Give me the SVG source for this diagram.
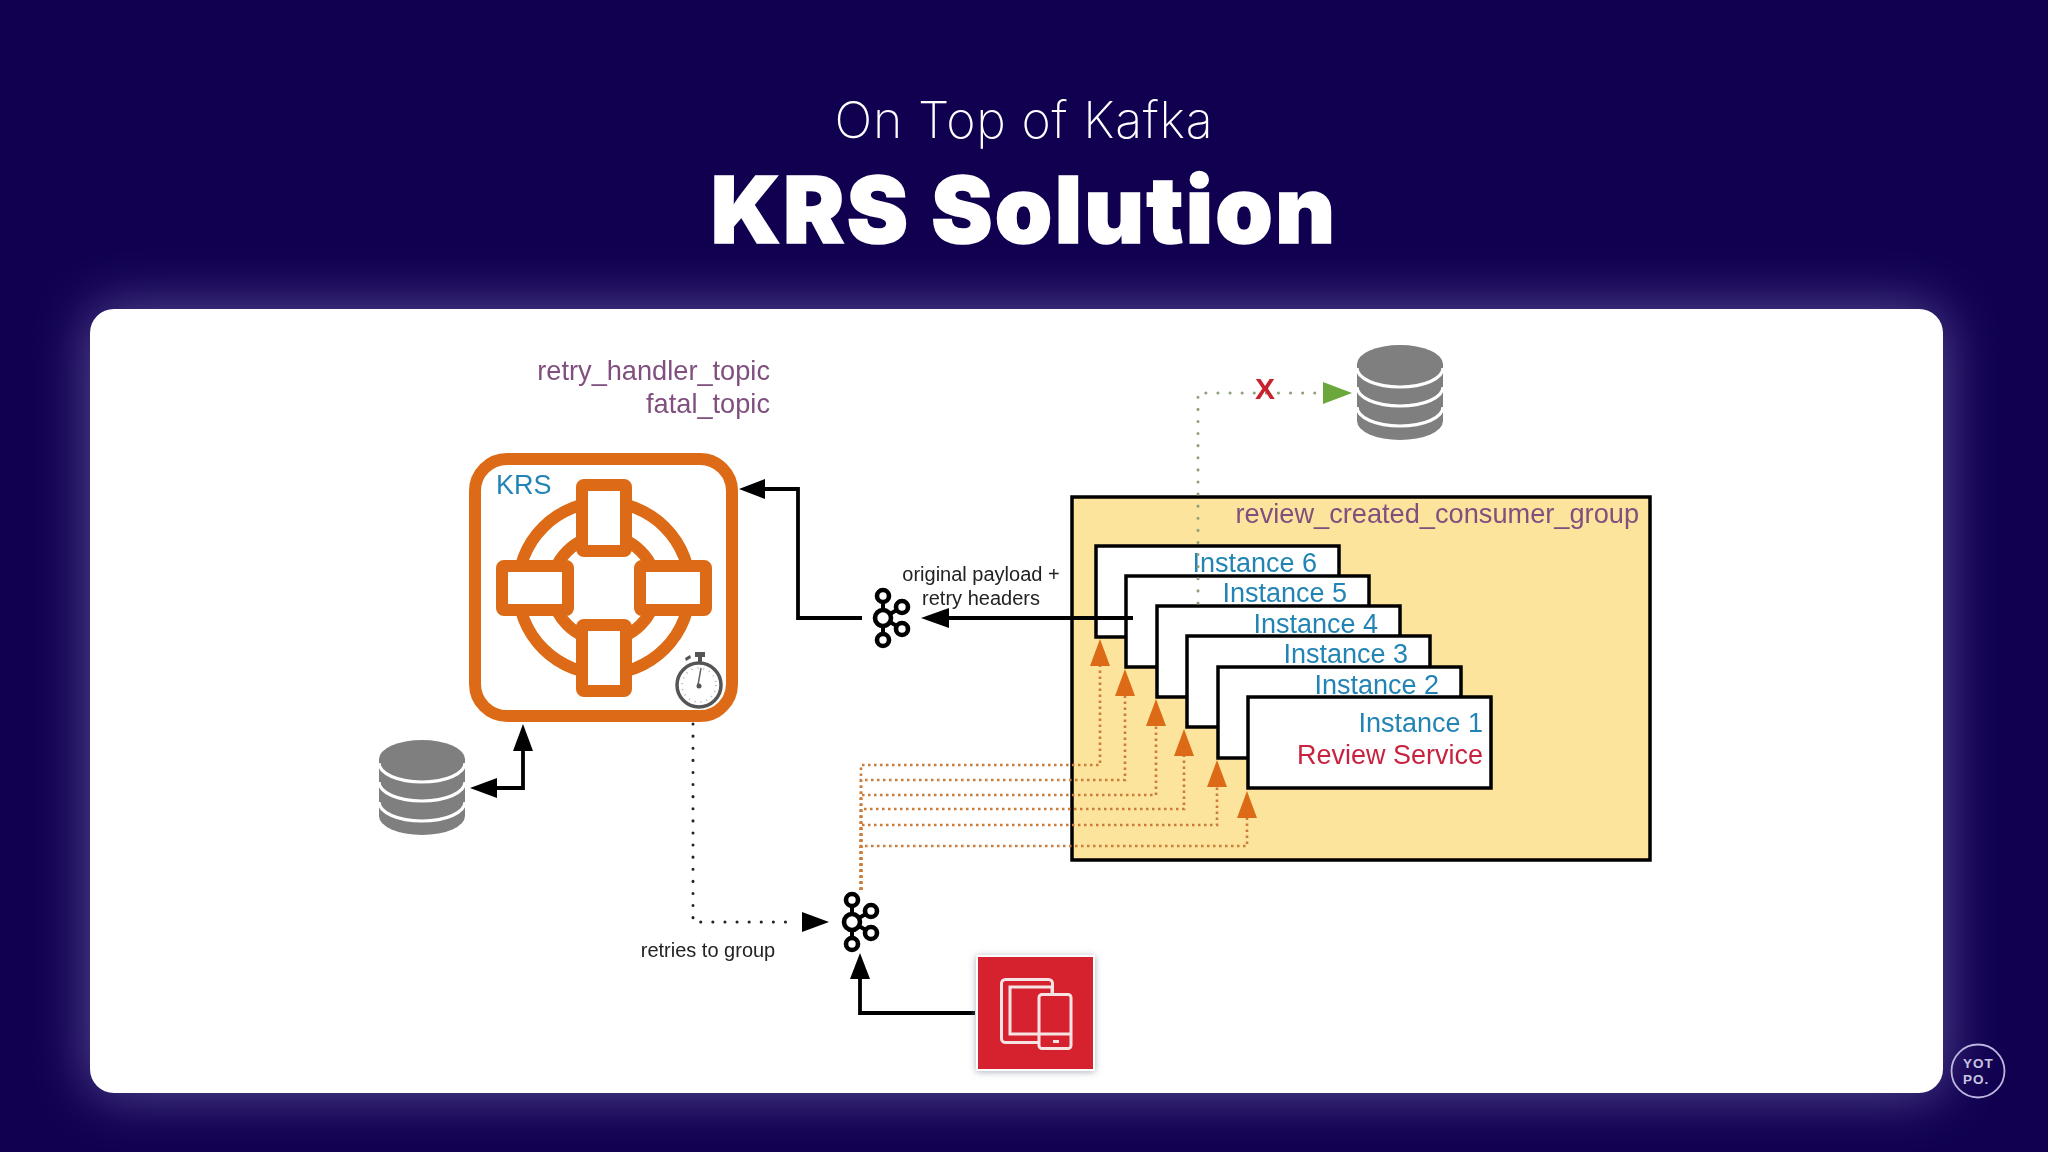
<svg xmlns="http://www.w3.org/2000/svg" width="2048" height="1152" viewBox="0 0 2048 1152">
<style>
text{font-family:"Liberation Sans",Arial,sans-serif}
.purple{font-size:27.2px;fill:#80507f;text-anchor:end}
.blue{font-size:27px;fill:#2384b4;text-anchor:end}
.small{font-size:20px;fill:#222;text-anchor:middle}
.inst{fill:#fff;stroke:#000;stroke-width:3.5}
.solid{fill:none;stroke:#000;stroke-width:3.8}
.dotk{fill:none;stroke:#222;stroke-width:3;stroke-linecap:round;stroke-dasharray:.1 12}
.doto{fill:none;stroke:#cb7c38;stroke-width:2.6;stroke-dasharray:2.5 3.5}
.dotg{fill:none;stroke:#8fa07c;stroke-width:3;stroke-linecap:round;stroke-dasharray:.1 12}
.arm{fill:#fff;stroke:#dc6a12;stroke-width:12}
.kaf{fill:#fff;stroke:#000;stroke-width:4.6}
.orange{fill:#dc6a12}
.icon{fill:none;stroke:#f6e4e4;stroke-width:3}
.logo{font-weight:700;font-size:13.5px;letter-spacing:1px;fill:#c8c4e2}
</style>
<defs>
<filter id="glow" x="-10%" y="-20%" width="120%" height="140%"><feGaussianBlur stdDeviation="28"/></filter>
<filter id="soft" x="-5%" y="-5%" width="110%" height="110%"><feGaussianBlur stdDeviation=".55"/></filter>
<filter id="shadow" x="-15%" y="-15%" width="130%" height="130%"><feDropShadow dx="0" dy="1" stdDeviation="3.500" flood-color="#8a97a0" flood-opacity=".75"/></filter>
<g id="db">
<path d="M0 19A43 19 0 0 1 86 19V76A43 19 0 0 1 0 76Z" fill="#7f7f7f"/>
<path d="M0 23A43 19 0 0 0 86 23M0 42A43 19 0 0 0 86 42M0 62A43 19 0 0 0 86 62" fill="none" stroke="#fff" stroke-width="3.200"/>
</g>
<g id="kafka">
<path d="M0 0V-22M0 0V22M0 0L19-11M0 0L19 11" stroke="#000" stroke-width="4"/>
<circle class="kaf" cx="0" cy="-22" r="6"/><circle class="kaf" cx="0" cy="22" r="6"/>
<circle class="kaf" cx="19" cy="-11" r="6"/><circle class="kaf" cx="19" cy="11" r="6"/>
<circle class="kaf" cx="0" cy="0" r="8"/>
</g>
</defs>

<rect id="background" width="2048" height="1152" fill="#110050"/>
<rect id="panel-glow" x="90" y="309" width="1853" height="784" rx="24" fill="#9a92d8" opacity=".55" filter="url(#glow)"/>
<rect id="panel" x="90" y="309" width="1853" height="784" rx="24" fill="#fff"/>

<g id="title">
<text x="1024" y="138" text-anchor="middle" style="font-family:Inter,'Noto Sans',sans-serif;font-weight:200;font-size:50px;letter-spacing:.8px" fill="#fff">On Top of Kafka</text>
<text x="1024" y="243" text-anchor="middle" style="font-family:Inter,'Noto Sans',sans-serif;font-weight:900;font-size:92px;letter-spacing:2.400px;stroke:#fff;stroke-width:1.500px" fill="#fff">KRS Solution</text>
</g>

<g id="diagram" filter="url(#soft)">
<g id="group-box"><rect x="1072" y="497" width="578" height="363" fill="#fde49c" stroke="#000" stroke-width="3.500"/>
<text class="purple" x="1639" y="523">review_created_consumer_group</text></g>

<g id="topic-labels"><text class="purple" x="770" y="380">retry_handler_topic</text><text class="purple" x="770" y="413">fatal_topic</text></g>

<g id="krs">
<rect x="475" y="459" width="257" height="257" rx="32" fill="#fff" stroke="#dc6a12" stroke-width="12"/>
<circle cx="604" cy="588" r="86" fill="none" stroke="#dc6a12" stroke-width="12"/>
<circle cx="604" cy="588" r="52" fill="#fff" stroke="#dc6a12" stroke-width="12"/>
<rect class="arm" x="582" y="485" width="44" height="66" rx="2"/>
<rect class="arm" x="582" y="625" width="44" height="66" rx="2"/>
<rect class="arm" x="502" y="566" width="66" height="44" rx="2"/>
<rect class="arm" x="640" y="566" width="66" height="44" rx="2"/>
<text x="496" y="494" style="font-size:27px;fill:#2384b4">KRS</text>
<g id="stopwatch">
<rect x="695" y="652" width="10" height="5" fill="#555"/><rect x="698" y="656" width="4" height="6" fill="#555"/>
<path d="M685 658l5-3 1 3-5 3z" fill="#555"/>
<circle cx="699" cy="685" r="22" fill="#fff" stroke="#555" stroke-width="3.500"/>
<circle cx="699" cy="685" r="17" fill="none" stroke="#bbb" stroke-width="2" stroke-dasharray="1 5"/>
<path d="M701 668L698 685" stroke="#666" stroke-width="1.500"/><circle cx="699" cy="686" r="2.500" fill="#555"/>
</g>
</g>

<g id="db-left"><use href="#db" x="379" y="740"/></g>
<g id="db-right"><use href="#db" x="1357" y="345"/></g>

<g id="instance-6"><rect class="inst" x="1096" y="546" width="243" height="91"/><text class="blue" x="1317" y="572">Instance 6</text></g>
<g id="instance-5"><rect class="inst" x="1126" y="576" width="243" height="91"/><text class="blue" x="1347" y="602">Instance 5</text></g>
<g id="instance-4"><rect class="inst" x="1157" y="606" width="243" height="91"/><text class="blue" x="1378" y="633">Instance 4</text></g>
<g id="instance-3"><rect class="inst" x="1187" y="636" width="243" height="91"/><text class="blue" x="1408" y="663">Instance 3</text></g>
<g id="instance-2"><rect class="inst" x="1218" y="667" width="243" height="91"/><text class="blue" x="1439" y="694">Instance 2</text></g>
<g id="instance-1"><rect class="inst" x="1248" y="697" width="243" height="91"/><text class="blue" x="1483" y="732">Instance 1</text><text x="1483" y="764" style="font-size:27px;fill:#c8233f;text-anchor:end">Review Service</text></g>

<g id="connectors">
<path class="solid" d="M862 618H798V489H762"/><path d="M739 489L765 479V499Z"/>
<path class="solid" d="M1133 618H948"/><path d="M921 618L949 608V628Z"/>
<path class="solid" d="M523 750V788H496"/><path d="M523 724L513 751H533Z"/><path d="M470 788L497 778V798Z"/>
<path class="solid" d="M975 1013H860V977"/><path d="M860 953L850 979H870Z"/>
<path class="dotk" d="M693 724V922H792"/><path d="M829 922L802 912V932Z"/>
<path class="dotg" d="M1198 603V393H1322"/><path d="M1352 393L1323 382V404Z" fill="#6aa83a"/>
<g id="retry-lines">
<path class="doto" d="M861 890V765H1100V664"/>
<path class="doto" d="M861 890V780H1125V694"/>
<path class="doto" d="M861 890V795H1156V724"/>
<path class="doto" d="M861 890V809H1184V753"/>
<path class="doto" d="M861 890V825H1217V785"/>
<path class="doto" d="M861 890V846H1247V815"/>
<path class="orange" d="M1100 639L1090 666H1110Z"/><path class="orange" d="M1125 669L1115 696H1135Z"/><path class="orange" d="M1156 699L1146 726H1166Z"/><path class="orange" d="M1184 729L1174 756H1194Z"/><path class="orange" d="M1217 760L1207 787H1227Z"/><path class="orange" d="M1247 791L1237 818H1257Z"/>
</g>
<text x="1265" y="399" style="font-size:30px;font-weight:700;fill:#c8232e;text-anchor:middle">X</text>
</g>

<g id="kafka-top"><use href="#kafka" x="883" y="618"/></g>
<g id="kafka-bottom"><use href="#kafka" x="852" y="922"/></g>
<g id="label-payload"><text class="small" x="981" y="581">original payload +</text><text class="small" x="981" y="605">retry headers</text></g>
<g id="label-retries"><text class="small" x="708" y="957">retries to group</text></g>

<g id="producer">
<rect x="977" y="956" width="117" height="114" fill="#d6232e" stroke="#fff" stroke-width="2" filter="url(#shadow)"/>
<rect class="icon" x="1001.500" y="979.500" width="51" height="63" rx="4"/>
<rect class="icon" x="1010" y="987" width="42" height="47"/>
<rect class="icon" x="1039" y="994.500" width="32" height="54" rx="3" style="fill:#d6232e"/>
<path class="icon" d="M1039 1034H1071"/><rect x="1053" y="1040" width="6" height="3" fill="#f6e4e4"/>
</g>
</g>

<g id="logo">
<circle cx="1978" cy="1071" r="26.500" fill="none" stroke="#bcb6de" stroke-width="1.800"/>
<text class="logo" x="1963" y="1068">YOT</text>
<text class="logo" x="1963" y="1084">PO.</text>
</g>
</svg>
